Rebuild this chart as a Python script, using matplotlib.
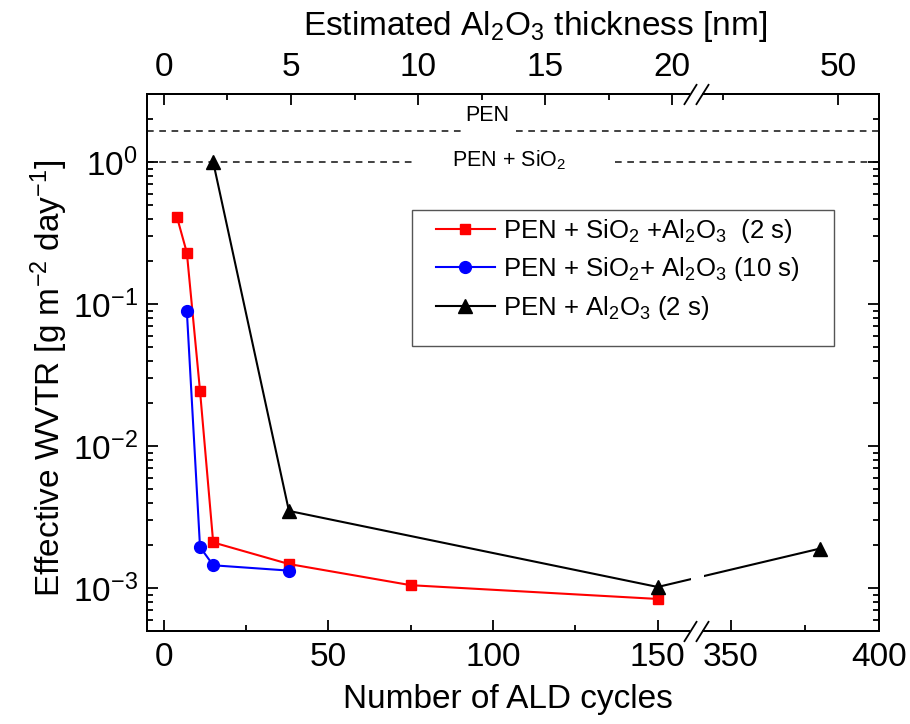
import numpy as np
import matplotlib
matplotlib.use("Agg")
import matplotlib.pyplot as plt
from matplotlib.patches import Rectangle

plt.rcParams['font.family'] = ['Liberation Sans', 'DejaVu Sans']
plt.rcParams['mathtext.fontset'] = 'custom'
plt.rcParams['mathtext.rm'] = 'Liberation Sans'
plt.rcParams['mathtext.it'] = 'Liberation Sans:italic'
plt.rcParams['mathtext.default'] = 'regular'

# data
cycles_sio2_2s = [4, 7, 11, 15, 38, 75, 150]
wvtr_sio2_2s = [0.41, 0.23, 0.0245, 0.0021, 0.00148, 0.00105, 0.00084]
cycles_sio2_10s = [7, 11, 15, 38]
wvtr_sio2_10s = [0.089, 0.00195, 0.00145, 0.00133]
cycles_al2o3 = [15, 38, 150, 380]
wvtr_al2o3 = [1.0, 0.0035, 0.00102, 0.0019]
wvtr_pen = 1.65
wvtr_pen_sio2 = 1.0

bottom_major = [0, 50, 100, 150, 350, 400]
bottom_minor = [25, 75, 125, 375]
top_major = [0, 5, 10, 15, 20, 50]
top_minor = [2.5, 7.5, 12.5, 17.5, 45]
nm_per_cycle = 0.1295

# broken x axis: piecewise linear scale
seg_x = [-5, 160, 341, 400]
seg_u = [-5, 160, 164, 164 + 59 * 0.9033]


def fwd(x):
    return np.interp(x, seg_x, seg_u)


def inv(u):
    return np.interp(u, seg_u, seg_x)


fig = plt.figure(figsize=(9.1, 7.24), dpi=100)
ax = fig.add_axes([0.1619, 0.1285, 0.8044, 0.7413])
ax.set_xscale('function', functions=(fwd, inv))
ax.set_yscale('log')
ax.set_xlim(-5, 400)
ax.set_ylim(5e-4, 3)

# reference levels, dashed and interrupted around their labels
dash = dict(color='#333333', lw=1.3, ls=(0, (3.7, 3.1)), zorder=1)
ax.axhline(wvtr_pen, xmax=0.428, **dash)
ax.axhline(wvtr_pen, xmin=0.503, **dash)
ax.axhline(wvtr_pen_sio2, xmax=0.368, **dash)
ax.axhline(wvtr_pen_sio2, xmin=0.639, **dash)
ax.text(0.465, 0.96, 'PEN', transform=ax.transAxes, ha='center', va='center',
        fontsize=15.5)
ax.text(0.494, 0.877, r'PEN + SiO$_2$', transform=ax.transAxes, ha='center',
        va='center', fontsize=15.5)

ax.plot(cycles_sio2_2s, wvtr_sio2_2s, color='red', lw=1.5, marker='s', ms=7.5,
        label=r'PEN + SiO$_2$ +Al$_2$O$_3$  (2 s)', zorder=3)
ax.plot(cycles_sio2_10s, wvtr_sio2_10s, color='blue', lw=1.5, marker='o', ms=8.5,
        label=r'PEN + SiO$_2$+ Al$_2$O$_3$ (10 s)', zorder=3)
ax.plot(cycles_al2o3, wvtr_al2o3, color='black', lw=1.5, marker='^', ms=10,
        label=r'PEN + Al$_2$O$_3$ (2 s)', zorder=3)

# gap in the line across the axis break
ax.axvspan(seg_x[1], seg_x[2], ymin=0.03, ymax=0.8, color='white', lw=0, zorder=3.5)

ax.set_xticks(bottom_major)
ax.set_xticklabels([str(t) for t in bottom_major])
ax.set_xticks(bottom_minor, minor=True)
ax.tick_params(axis='both', which='both', direction='in', width=1.3,
               labelsize=24, top=False, right=True)
ax.tick_params(axis='both', which='major', length=8)
ax.tick_params(axis='both', which='minor', length=4.5)
ax.tick_params(axis='x', pad=8)
ax.tick_params(axis='y', pad=7)
for s in ax.spines.values():
    s.set_linewidth(1.4)

ax.set_xlabel('Number of ALD cycles', fontsize=24, labelpad=8)
ax.xaxis.label.set_x(0.492)
ax.set_ylabel(r'Effective WVTR [g m$^{-2}$ day$^{-1}$]', fontsize=24, labelpad=2)
ax.yaxis.label.set_y(0.47)

ax2 = ax.twiny()
ax2.set_xscale('function', functions=(lambda t: fwd(t / nm_per_cycle),
                                      lambda u: inv(u) * nm_per_cycle))
ax2.set_xlim(seg_x[0] * nm_per_cycle, seg_x[-1] * nm_per_cycle)
ax2.set_xticks(top_major)
ax2.set_xticklabels([str(t) for t in top_major])
ax2.set_xticks(top_minor, minor=True)
ax2.tick_params(axis='x', which='both', direction='in', width=1.3, labelsize=24, pad=8)
ax2.tick_params(axis='x', which='major', length=8)
ax2.tick_params(axis='x', which='minor', length=4.5)
ax2.set_xlabel(r'Estimated Al$_2$O$_3$ thickness [nm]', fontsize=24, labelpad=12)
ax2.xaxis.label.set_x(0.53)
for s in ax2.spines.values():
    s.set_linewidth(1.4)

# break marks on both spines
bx0, bx1 = 0.7414, 0.7578
for yy in (0, 1):
    ax2.add_patch(Rectangle((bx0, yy - 0.006), bx1 - bx0, 0.012, transform=ax2.transAxes,
                            fc='white', ec='none', clip_on=False, zorder=5))
    ax2.plot([bx0, bx1], [yy, yy], transform=ax2.transAxes, ls='none',
             marker=[(-1, -1.6), (1, 1.6)], ms=15, mew=1.3, color='black',
             clip_on=False, zorder=6)

# legend with its own frame
ax.add_patch(Rectangle((0.3616, 0.531), 0.5765, 0.2534, transform=ax.transAxes,
                       fc='white', ec='#555555', lw=1.0, zorder=9))
leg = ax.legend(loc='upper left', bbox_to_anchor=(0.394, 0.772), borderaxespad=0,
                fontsize=18.5, handlelength=2.3, handletextpad=0.3, labelspacing=0.42,
                borderpad=0, frameon=False)
leg.set_zorder(10)

fig.savefig('out.png', dpi=100)
